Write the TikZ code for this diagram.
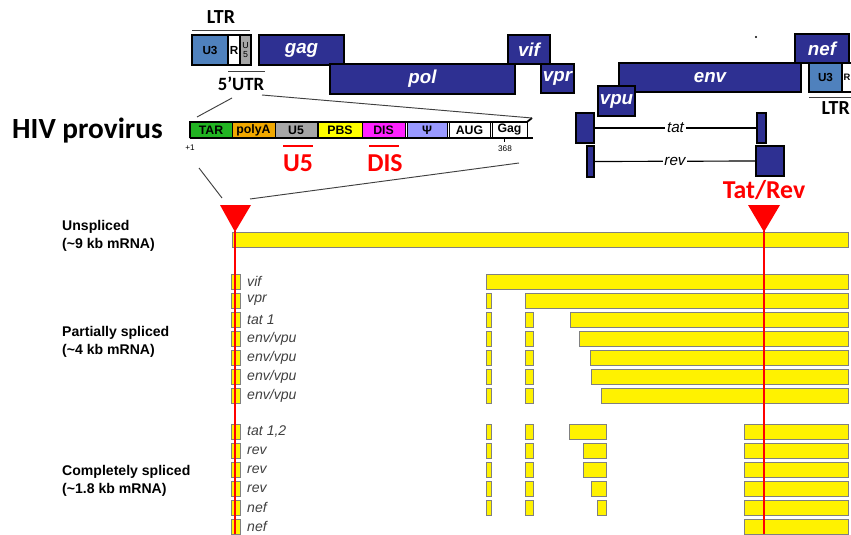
\documentclass[tikz,border=0pt]{standalone}
\usepackage{fontspec}
\setmainfont{Carlito}
\newfontfamily\arialfont{Liberation Sans}
\usetikzlibrary{calc}
\definecolor{hivnavy}{HTML}{2E3092}
\definecolor{ltrblue}{HTML}{4F81BD}
\definecolor{targreen}{HTML}{22B422}
\definecolor{polyaorange}{HTML}{F0A800}
\definecolor{u5gray}{HTML}{A6A6A6}
\definecolor{pbsyellow}{HTML}{FFFF00}
\definecolor{dismagenta}{HTML}{FF22FF}
\definecolor{psiblue}{HTML}{9999FF}
\definecolor{exonyellow}{HTML}{FFF200}
\definecolor{exonedge}{HTML}{808080}
\definecolor{hivred}{HTML}{FF0000}
\definecolor{hivgray}{HTML}{404040}
\newcommand{\fsz}[2]{\fontsize{#1pt}{#2pt}\selectfont}
% box from (x1,y1) to (x2,y2) in pixel units
\newcommand{\pbox}[7]{%
  \node[#6,minimum width={(#4-#2)*0.03cm},minimum height={(#5-#3)*0.03cm}]
    (#1) at ({(#2+#4)/2},{(#3+#5)/2}) {#7};}
\tikzset{
  box/.style={draw=black,line width=1pt,inner sep=0pt,outer sep=0pt,align=center},
  gene/.style={box,fill=hivnavy,text=white,font=\arialfont\bfseries\itshape\fsz{16}{16}},
  ltrpart/.style={box,font=\arialfont\bfseries\fsz{10}{10}},
  seg/.style={box,line width=0.8pt,font=\arialfont\bfseries\fsz{10.5}{10.5}},
  hdr/.style={font=\bfseries\fsz{17}{17},inner sep=0pt},
  redlbl/.style={text=hivred,font=\bfseries\fsz{22}{22},inner sep=0pt},
  redmark/.style={draw=hivred,line width=2pt},
  redline/.style={draw=hivred,line width=2.2pt},
  zoomline/.style={draw=hivgray,line width=0.8pt},
  intron/.style={draw=black,line width=1pt},
  introntxt/.style={fill=white,inner sep=1.5pt,font=\arialfont\itshape\fsz{13}{13}},
  tiny/.style={font=\arialfont\fsz{7}{7},inner sep=0pt},
  exon/.style={draw=exonedge,fill=exonyellow,line width=0.7pt},
  rowlbl/.style={anchor=west,inner sep=0pt,text=hivgray,font=\arialfont\itshape\fsz{12}{12}},
  grplbl/.style={anchor=west,align=left,inner sep=0pt,font=\arialfont\bfseries\fsz{12}{15}},
}
\begin{document}
\begin{tikzpicture}[x=0.03cm,y=-0.03cm]
  \useasboundingbox (0,0) rectangle (851,534);
  \clip (0,0) rectangle (851,534);

  % genome map
  \node[hdr] (ltrL) at (221,17) {LTR};
  \draw[zoomline] (192,30) -- (250,30);
  \pbox{u3L}{192}{35}{228}{65}{ltrpart,fill=ltrblue}{U3}
  \pbox{rL}{228}{35}{240}{65}{ltrpart,fill=white}{R}
  \pbox{u5L}{240}{35}{251}{65}{ltrpart,fill=u5gray,font=\arialfont\fsz{7.5}{8}}{U\\5}
  \draw[line width=1.5pt] (u3L.north west) rectangle (u5L.south east);
  \draw[zoomline] (228,71) -- (265,71);
  \node[hdr,font=\bfseries\fsz{16}{16}] (utr) at (241,84) {5’UTR};

  \pbox{gag}{259}{35}{344}{65}{gene}{gag}
  \pbox{pol}{330}{64}{515}{94}{gene}{pol}
  \pbox{vif}{508}{35}{550}{64}{gene}{vif}
  \pbox{vpr}{541}{64}{574}{93}{gene}{vpr}
  \pbox{env}{619}{63}{801}{92}{gene}{env}
  \pbox{vpu}{598}{86}{635}{116}{gene}{vpu}
  \pbox{nef}{795}{34}{849}{63}{gene}{nef}
  \pbox{u3R}{809}{63}{842}{92}{ltrpart,fill=ltrblue}{U3}
  \pbox{rR}{842}{63}{852}{92}{ltrpart,fill=white,font=\arialfont\bfseries\fsz{8}{8}}{R}
  \draw[zoomline] (809,97) -- (851,97);
  \node[hdr,anchor=east] (ltrR) at (850,108) {LTR};
  \fill (756,37) circle (1.2);

  % tat and rev exons
  \pbox{tatA}{576}{113}{594}{143}{gene}{}
  \pbox{tatB}{757}{113}{766}{143}{gene}{}
  \pbox{revA}{587}{146}{594}{177}{gene}{}
  \pbox{revB}{756}{146}{784}{176}{gene}{}
  \draw[intron] (tatA.east) -- node[introntxt]{tat} (tatB.west);
  \draw[intron] (revA.east) -- node[introntxt]{rev} (revB.west);
  \node[redlbl] (tatrev) at (764,190) {Tat/Rev};

  % 5'UTR expanded
  \node[font=\bfseries\fsz{25}{25},inner sep=0pt,anchor=west] (provirus) at (12,131) {HIV provirus};
  \pbox{tar}{190}{122}{232}{138}{seg,fill=targreen}{TAR}
  \pbox{polya}{232}{122}{275}{138}{seg,fill=polyaorange}{polyA}
  \pbox{u5}{275}{122}{317}{138}{seg,fill=u5gray}{U5}
  \pbox{pbs}{318}{122}{362}{138}{seg,fill=pbsyellow}{PBS}
  \pbox{dis}{362}{122}{405}{138}{seg,fill=dismagenta}{DIS}
  \pbox{psi}{407}{122}{447}{138}{seg,fill=psiblue}{Ψ}
  \pbox{aug}{449}{122}{490}{138}{seg,fill=white}{AUG}
  \pbox{gagseg}{492}{122}{527}{138}{seg,fill=white}{Gag}
  \coordinate (barend) at (533,138);
  \coordinate (bartip) at (532,118);
  \draw[line width=1.5pt] (tar.south west) -- (tar.north west) -- (gagseg.north east) -- (bartip);
  \draw[line width=2pt] (tar.south west) -- (barend);
  \draw[line width=0.8pt] (504,138) -- (504,142);
  \node[tiny] (plusone) at (190,148) {+1};
  \node[tiny] (n368) at (505,149) {368};
  \draw[redmark] (283,146) -- (313,146);
  \node[redlbl] (u5mark) at (298,163) {U5};
  \draw[redmark] (369,146) -- (399,146);
  \node[redlbl] (dismark) at (385,163) {DIS};

  % zoom lines
  \coordinate (zTL) at (232,98);
  \coordinate (zTR) at (262,95);
  \coordinate (zBL) at (222,198);
  \coordinate (zBR) at (250,199);
  \draw[zoomline] (zTL) -- (197,117);
  \draw[zoomline] (zTR) -- (bartip);
  \draw[zoomline] (199,168) -- (zBL);
  \draw[zoomline] (519,163) -- (zBR);

  % transcripts
  \node[grplbl] (unspliced) at (62,236) {Unspliced\\(\textasciitilde9 kb mRNA)};
  \node[grplbl] (partial) at (62,342) {Partially spliced\\(\textasciitilde4 kb mRNA)};
  \node[grplbl] (complete) at (62,481) {Completely spliced\\(\textasciitilde1.8 kb mRNA)};
  \draw[exon] (232,232) rectangle (848,247);
  \foreach \ty/\exons/\lbl in {
      274/{231/240,486/848}/vif,
      293/{231/240,486/491,525/848}/vpr,
      312/{231/240,486/491,525/533,570/848}/{tat 1},
      331/{231/240,486/491,525/533,579/848}/{env/vpu},
      350/{231/240,486/491,525/533,590/848}/{env/vpu},
      369/{231/240,486/491,525/533,591/848}/{env/vpu},
      388/{231/240,486/491,525/533,601/848}/{env/vpu},
      424/{231/240,486/491,525/533,569/606,744/848}/{tat 1,2},
      443/{231/240,486/491,525/533,583/606,744/848}/rev,
      462/{231/240,486/491,525/533,583/606,744/848}/rev,
      481/{231/240,486/491,525/533,591/606,744/848}/rev,
      500/{231/240,486/491,525/533,597/606,744/848}/nef,
      519/{231/240,744/848}/nef} {
    \foreach \xa/\xb in \exons {\draw[exon] (\xa,\ty) rectangle (\xb,\ty+15);}
    \node[rowlbl] (lbl\ty) at (247,\ty+7.5) {\lbl};
  }

  % splice markers
  \fill[hivred] (220,205) -- (251,205) -- (235,232) -- cycle;
  \fill[hivred] (748,205) -- (780,205) -- (764,232) -- cycle;
  \coordinate (tipL) at (235,231);
  \coordinate (tipR) at (764,231);
  \coordinate (endL) at (235,534);
  \coordinate (endR) at (764,534);
  \draw[redline] (tipL) -- (endL);
  \draw[redline] (tipR) -- (endR);
\end{tikzpicture}
\end{document}
